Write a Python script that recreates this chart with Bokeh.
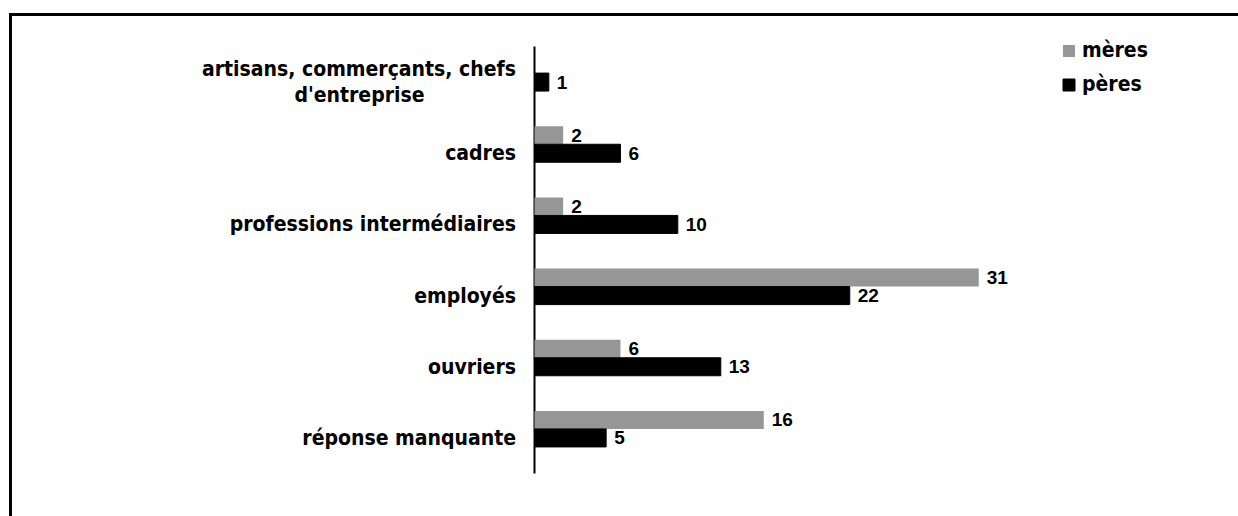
from bokeh.plotting import figure
from bokeh.models import Range1d, ColumnDataSource, Legend, LegendItem
from bokeh.embed import file_html
from bokeh.resources import INLINE
from bokeh.core.properties import value

categories = ["artisans, commerçants, chefs\nd'entreprise", "cadres",
              "professions intermédiaires", "employés", "ouvriers", "réponse manquante"]
meres = [0, 2, 2, 31, 6, 16]
peres = [1, 6, 10, 22, 13, 5]
series_names = ["mères", "pères"]

LABEL_FONT = "DejaVu Sans Condensed"
VALUE_FONT = "Liberation Sans"

W, H = 1238, 516          # canvas size
PX_X = 14.33              # pixels per value unit
PX_Y = 71.17              # pixels per category band
AXIS_PX = 534             # axis position from canvas left
BAND_TOP_PX = 46          # band region top from canvas top
BORDER_X_PX = 10
BORDER_Y_PX = 14
N = len(categories)

x_start = -AXIS_PX / PX_X
x_end = (W - AXIS_PX) / PX_X
y_end = N + BAND_TOP_PX / PX_Y
y_start = y_end - H / PX_Y

p = figure(width=W, height=H, output_backend="svg", toolbar_location=None,
           x_range=Range1d(x_start, x_end), y_range=Range1d(y_start, y_end),
           min_border=0, min_border_left=0, min_border_right=0,
           min_border_top=0, min_border_bottom=0)
p.outline_line_color = None
p.grid.visible = False
p.axis.visible = False

# outer chart border (only its top and left edges fall inside the picture)
bx = x_start + BORDER_X_PX / PX_X
by = y_end - BORDER_Y_PX / PX_Y
p.segment(x0=[bx - 1.5 / PX_X, bx], y0=[by, by + 1.5 / PX_Y], x1=[x_end + 5, bx], y1=[by, y_start - 5],
          line_color="black", line_width=3)

ypos = [N - i - 0.5 for i in range(N)]
BAR_H = 18 / PX_Y

# category axis line
p.segment(x0=[0], y0=[0], x1=[0], y1=[N], line_color="black", line_width=2)

src = ColumnDataSource(dict(y=ypos, ym=[v + BAR_H for v in ypos], meres=meres, peres=peres,
                            mlab=[str(v) if v else "" for v in meres],
                            plab=[str(v) if v else "" for v in peres]))

rm = p.hbar(y="ym", left=0, right="meres", height=BAR_H, source=src,
            fill_color="#969696", line_color=None)
rp = p.hbar(y="y", left=0, right="peres", height=BAR_H, source=src,
            fill_color="black", line_color="black", line_width=1)

vstyle = dict(x_offset=8, text_align="left", text_baseline="middle",
              text_font=value(VALUE_FONT), text_font_style="bold", text_font_size="19px",
              text_color="black")
p.text(x="meres", y="ym", text="mlab", source=src, **vstyle)
p.text(x="peres", y="y", text="plab", source=src, **vstyle)

# category labels (wrapped label lines are centred on the first line)
LBL_OFF = 18.5
FIRST_LINE_W = 313
LINE_H = 26
single_y, single_t = [], []
l1_y, l1_t, l1_off, l2_y, l2_t, l2_off = [], [], [], [], [], []
for c, y in zip(categories, ypos):
    lines = c.split("\n")
    if len(lines) == 1:
        single_y.append(y)
        single_t.append(c)
    else:
        l1_y.append(y); l1_t.append(lines[0]); l1_off.append(-LINE_H / 2)
        l2_y.append(y); l2_t.append(lines[1]); l2_off.append(LINE_H / 2)
lstyle = dict(text_baseline="middle", text_font=value(LABEL_FONT), text_font_style="bold",
              text_font_size="21px", text_color="black")
p.text(x=0, y=single_y, text=single_t, x_offset=-LBL_OFF, text_align="right", **lstyle)
p.text(x=0, y=l1_y, text=l1_t, x_offset=-LBL_OFF, y_offset=l1_off, text_align="right", **lstyle)
p.text(x=0, y=l2_y, text=l2_t, x_offset=-(LBL_OFF + FIRST_LINE_W / 2), y_offset=l2_off,
       text_align="center", **lstyle)

legend = Legend(items=[LegendItem(label=series_names[0], renderers=[rm]),
                       LegendItem(label=series_names[1], renderers=[rp])],
                location=(1061, 420), orientation="vertical",
                glyph_width=15, glyph_height=15, label_height=24, spacing=10,
                label_standoff=6, padding=5, margin=0,
                border_line_color=None, background_fill_alpha=0,
                label_text_font=LABEL_FONT, label_text_font_style="bold",
                label_text_font_size="21px", label_text_color="black")
p.add_layout(legend)

open("out.html", "w").write(file_html(p, INLINE))
